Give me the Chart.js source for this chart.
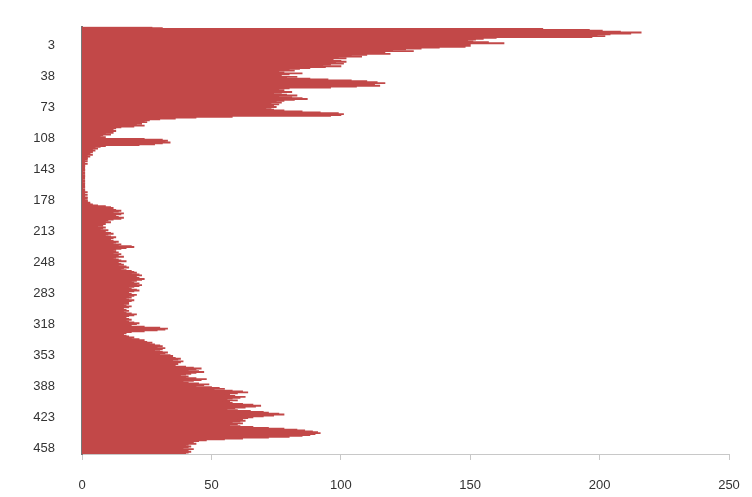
<!DOCTYPE html>
<html>
<head>
<meta charset="utf-8">
<script src="https://cdn.jsdelivr.net/npm/chart.js@4.4.1/dist/chart.umd.min.js"></script>
<style>
  html, body { margin: 0; padding: 0; background: #fff; }
  canvas { display: block; }
</style>
</head>
<body>
<canvas id="chart" width="752" height="497"></canvas>
<script>
// counts per row, top to bottom
const countsHead = [
  27, 31, 178, 196,
  201, 208, 216, 212, 204, 199, 202, 197, 160, 155, 152,
  149, 151, 157, 163, 150, 146, 150, 148,
  138, 131, 125, 120, 128, 117, 112, 119,
  110, 104, 108, 99, 102, 97,
  95, 100, 102, 98, 101, 96, 93,
  100, 94, 88, 84, 80,
  82, 76, 78, 85, 80, 74, 77, 83, 79,
  88, 95, 104, 110, 114, 117, 113, 109, 115, 106, 96,
  80, 76, 78, 75, 81, 77, 74, 79, 83, 76,
  81, 85, 87, 82, 78, 75, 77, 73, 76, 74,
  72, 75, 73, 71, 74, 78, 85, 92, 99, 101,
  100, 96
]
const countsDrop = [
  58, 44, 36, 30,
  26, 24, 25, 22, 23, 21, 24, 20,
  15, 13, 12, 11, 13, 10, 12, 9, 11,
  8, 7, 9, 6, 24, 31,
  33, 32, 34, 31, 28, 22,
  9, 7, 5, 6, 4, 5, 4,
  4, 3, 3, 4, 2, 3, 2
]
const countsFlat = [
  2, 2, 1, 2, 1, 1, 2, 1, 1, 1,
  1, 0, 1, 1, 1, 0, 1, 1, 0, 1,
  1, 1, 0, 1, 0, 1, 1, 0, 1, 1,
  0, 1, 1, 1, 0, 1, 1, 1, 2, 1,
  1, 2, 1, 1, 2, 2, 1, 2, 2, 2,
  3, 3
]
const countsRise = [
  4, 6, 9, 11, 12, 10,
  13, 15, 14, 12, 16, 15, 13, 11, 14, 16,
  15, 12, 10, 9, 11, 8, 9,
  7, 8, 6, 9, 8, 7, 10, 9, 8, 11, 12, 10, 9, 11, 13, 12, 10, 11, 12, 14,
  13, 12, 15, 14, 19, 20, 17, 15, 13, 12,
  13, 14, 12, 15, 13, 14, 16, 13, 12, 14, 15, 17, 14, 13, 15, 16, 14, 17, 18, 16, 15, 17, 19,
  20, 21, 19, 22, 23, 21, 20, 22, 24, 23, 21, 19, 20, 22, 21, 23, 22, 20, 18, 19,
  21, 22, 20, 18, 17, 19, 21, 20, 18, 19, 17, 18, 20, 19, 18
]
const countsTail = [
  17, 18, 16, 17, 19, 18, 16, 15, 17, 18, 16, 17, 19, 21, 20, 18, 17, 16, 18, 19,
  17, 18, 20, 22, 21, 19, 18,
  24, 30, 33, 32, 29, 24, 19, 17, 16,
  16, 17, 18, 20, 19, 22, 24, 23, 25, 27, 26,
  28, 30, 31, 29, 32, 31, 30, 28, 31, 33, 32, 30, 34,
  35, 33, 36, 38, 37, 35, 39, 38, 36, 37,
  34, 36, 40, 43, 46, 44, 41, 45, 47, 44, 42, 40,
  38, 41, 40, 44, 48, 46, 43, 39, 41, 45, 49, 47, 44
]
const countsBase = [
  50, 53, 55, 51, 58, 62, 64, 60, 57,
  55, 59, 63, 61, 58, 56, 60, 57,
  54, 58, 62, 66, 69, 67, 63, 59,
  56, 60, 65, 70, 72, 76, 78, 74, 70, 66,
  64, 62, 60, 63, 61, 58, 62, 60, 57,
  61, 66, 72, 78, 83, 86,
  89, 91, 92, 90, 88, 85, 80, 72,
  62, 55, 48, 45, 43, 42, 44, 41,
  40, 42, 41, 39, 43, 41, 40, 42, 41, 40
]

const counts = [].concat(countsHead, countsDrop, countsFlat, countsRise, countsTail, countsBase)

// row labels are consecutive integers
const firstRow = -17
const rows = counts.map((_, i) => String(firstRow + i))

const rowTicks = ["3", "38", "73", "108", "143", "178", "213", "248", "283", "318", "353", "388", "423", "458"]
const xTicks = [0, 50, 100, 150, 200, 250]

const tickFont = { family: "'Liberation Sans', Arial, sans-serif", size: 13 }

const ctx = document.getElementById("chart").getContext("2d")

new Chart(ctx, {
  type: "bar",
  data: {
    labels: rows,
    datasets: [
      {
        data: counts,
        backgroundColor: "#c24848",
        borderWidth: 0,
        barPercentage: 1,
        categoryPercentage: 1,
        inflateAmount: 0.5
      }
    ]
  },
  options: {
    indexAxis: "y",
    responsive: false,
    animation: false,
    layout: {
      padding: { top: 23, right: 23, bottom: 0, left: 0 }
    },
    plugins: {
      legend: { display: false },
      tooltip: { enabled: false }
    },
    scales: {
      x: {
        min: xTicks[0],
        max: xTicks[xTicks.length - 1],
        afterBuildTicks: (axis) => {
          axis.ticks = xTicks.map(v => ({ value: v }))
        },
        afterFit: (axis) => {
          // fixed axis band; side room comes from layout padding
          axis.height = 43
          axis.paddingLeft = 0
          axis.paddingRight = 0
        },
        grid: {
          display: true,
          drawOnChartArea: false,
          drawTicks: true,
          tickLength: 6,
          color: "#c8c8c8"
        },
        border: { display: true, color: "#c8c8c8", width: 1 },
        ticks: {
          padding: 18,
          color: "#333",
          font: tickFont,
          maxRotation: 0
        }
      },
      y: {
        afterFit: (axis) => {
          axis.width = 82
        },
        grid: { display: false },
        border: { display: true, color: "#777", width: 2 },
        ticks: {
          autoSkip: false,
          padding: 19,
          color: "#333",
          font: tickFont,
          callback: function(value) {
            const label = this.getLabelForValue(value)
            return rowTicks.includes(label) ? label : ""
          }
        }
      }
    }
  }
})
</script>
</body>
</html>
